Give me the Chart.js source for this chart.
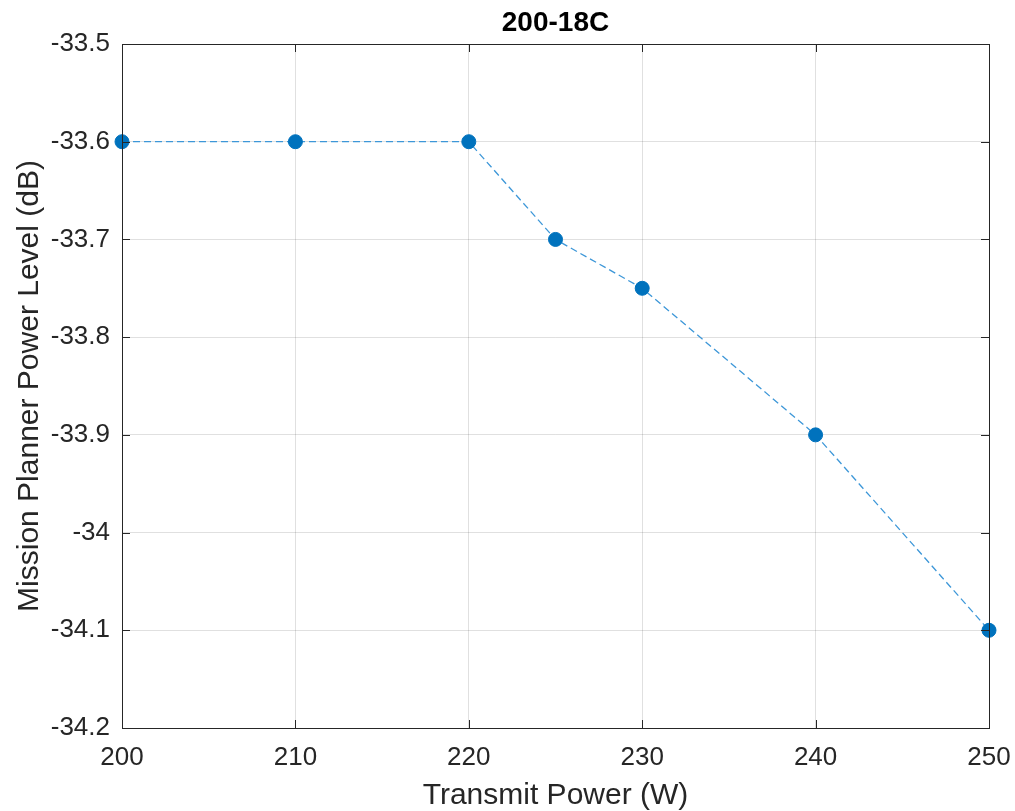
<!DOCTYPE html>
<html>
<head>
<meta charset="utf-8">
<title>200-18C</title>
<script src="https://cdn.jsdelivr.net/npm/chart.js@4/dist/chart.umd.min.js"></script>
<style>
  html, body { margin: 0; padding: 0; background: #fff; }
  #wrap { width: 1015px; height: 811px; }
</style>
</head>
<body>
<div id="wrap"><canvas id="powerChart" width="1015" height="811"></canvas></div>
<script>
// data
const transmitPower = [200, 210, 220, 225, 230, 240, 250];
const powerLevel = [-33.6, -33.6, -33.6, -33.7, -33.75, -33.9, -34.1];
const xTicks = [200, 210, 220, 230, 240, 250];
const yTicks = [-33.5, -33.6, -33.7, -33.8, -33.9, -34, -34.1, -34.2];

const FONT = "'Liberation Sans', Arial, Helvetica, sans-serif";
const TEXT = '#262626';

// box outline + inward tick marks, like the matlab axes
const boxFrame = {
    id: 'boxFrame',
    afterDraw(chart) {
        const { ctx, chartArea: a, scales } = chart;
        ctx.save();
        ctx.strokeStyle = '#262626';
        ctx.lineWidth = 1;
        ctx.strokeRect(a.left + 0.5, a.top + 0.5, a.right - a.left, a.bottom - a.top);
        const len = 8;
        ctx.beginPath();
        xTicks.forEach(v => {
            const x = Math.round(scales.x.getPixelForValue(v)) + 0.5;
            ctx.moveTo(x, a.bottom); ctx.lineTo(x, a.bottom - len);
            ctx.moveTo(x, a.top); ctx.lineTo(x, a.top + len);
        });
        yTicks.forEach(v => {
            const y = Math.round(scales.y.getPixelForValue(v)) + 0.5;
            ctx.moveTo(a.left, y); ctx.lineTo(a.left + len, y);
            ctx.moveTo(a.right, y); ctx.lineTo(a.right - len, y);
        });
        ctx.stroke();
        ctx.restore();
    }
};

new Chart(document.getElementById('powerChart'), {
    type: 'line',
    data: {
        datasets: [{
            data: transmitPower.map((x, i) => ({ x: x, y: powerLevel[i] })),
            borderColor: '#3d97d8',
            borderWidth: 1.3,
            borderDash: [7, 4],
            pointRadius: 7,
            pointHoverRadius: 7,
            pointBackgroundColor: '#0072BD',
            pointBorderColor: '#0072BD',
            pointBorderWidth: 1,
            tension: 0,
            fill: false,
            clip: false
        }]
    },
    options: {
        responsive: false,
        animation: false,
        layout: { padding: { left: 0, right: 26, top: 0, bottom: 0 } },
        plugins: {
            legend: { display: false },
            tooltip: { enabled: false },
            title: {
                display: true,
                text: '200-18C',
                fullSize: false,
                color: '#000',
                font: { family: FONT, size: 28, weight: 'bold' },
                padding: { top: 6, bottom: 4.4 }
            }
        },
        scales: {
            x: {
                type: 'linear',
                min: 200,
                max: 250,
                afterBuildTicks: s => { s.ticks = xTicks.map(v => ({ value: v })); },
                afterFit: s => { s.height = 83; s.paddingLeft = 0; s.paddingRight = 0; },
                grid: { color: 'rgba(0,0,0,0.12)', drawTicks: false },
                border: { display: false },
                ticks: {
                    color: TEXT,
                    padding: 14,
                    maxRotation: 0,
                    font: { family: FONT, size: 26 }
                },
                title: {
                    display: true,
                    text: 'Transmit Power (W)',
                    color: TEXT,
                    font: { family: FONT, size: 30 },
                    padding: { top: 0, bottom: -3 }
                }
            },
            y: {
                type: 'linear',
                min: -34.2,
                max: -33.5,
                afterBuildTicks: s => { s.ticks = yTicks.map(v => ({ value: v })); },
                afterFit: s => { s.width = 122; s.paddingTop = 0; s.paddingBottom = 0; },
                grid: { color: 'rgba(0,0,0,0.12)', drawTicks: false },
                border: { display: false },
                ticks: {
                    color: TEXT,
                    padding: 12,
                    font: { family: FONT, size: 26 },
                    callback: v => String(Math.round(v * 10) / 10)
                },
                title: {
                    display: true,
                    text: 'Mission Planner Power Level (dB)',
                    color: TEXT,
                    font: { family: FONT, size: 30 },
                    padding: { top: 12, bottom: 0 }
                }
            }
        }
    },
    plugins: [boxFrame]
});
</script>
</body>
</html>
